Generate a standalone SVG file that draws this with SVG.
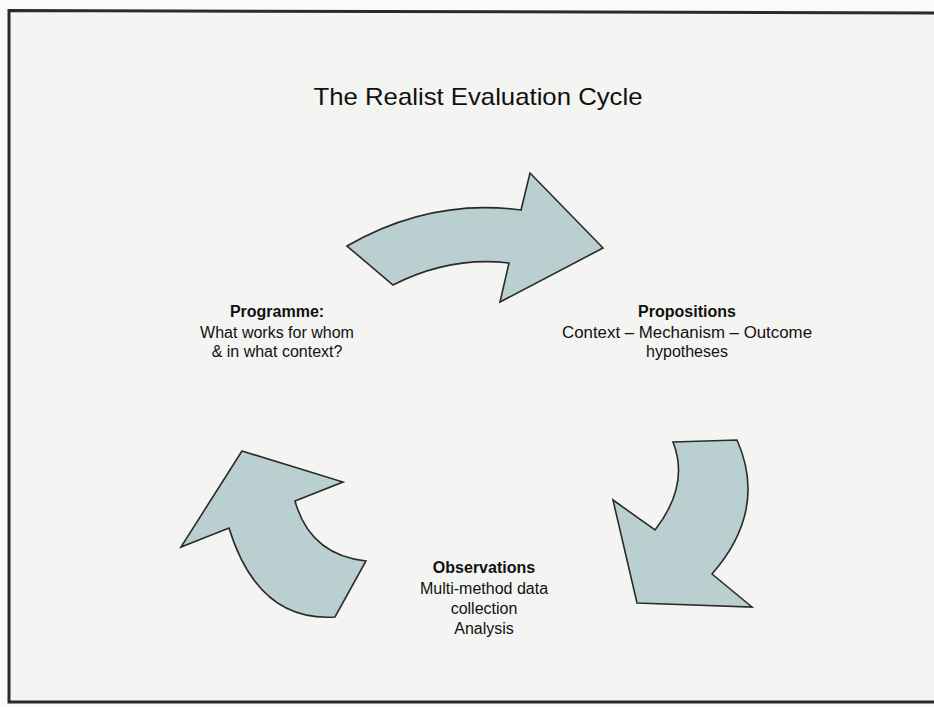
<svg xmlns="http://www.w3.org/2000/svg" width="934" height="707" viewBox="0 0 934 707">
<style>
.arrow{fill:#b9cfd0;stroke:#2a2a2a;stroke-width:1.6;stroke-linejoin:miter}
.t{font-family:"Liberation Sans",Arial,sans-serif;fill:#111;text-anchor:middle;font-size:16px}
.b{font-weight:bold}
.frame{stroke:#2b2b2b;stroke-width:3;fill:none}
</style>
<rect x="0" y="0" width="934" height="707" fill="#fafaf8"/>
<rect x="9" y="11" width="930" height="691" fill="#f4f4f2"/>
<g id="frame">
<path class="frame" d="M934,13 L9,10.5 L9,702 L934,702"/>
</g>
<text class="t" x="478" y="105" style="font-size:24px" textLength="329" lengthAdjust="spacingAndGlyphs">The Realist Evaluation Cycle</text>
<g id="connectors">
<path id="arrow-top" class="arrow" d="M347,246 Q430,198 521,210 L530,173 L603,248 L500,302 L509,263 Q450,256 393,285 Z"/>
<path id="arrow-right" class="arrow" d="M673,442 L737,440 Q768,510 712,574 L752,607 L637,603 L613,500 L655,530 Q690,485 673,442 Z"/>
<path id="arrow-left" class="arrow" d="M242,451 L343,482 L295,501 Q310,555 366,561 L335,617 Q258,622 229,528 L181,547 Z"/>
</g>
<g id="programme">
<text class="t b" x="277" y="317">Programme:</text>
<text class="t" x="277" y="338">What works for whom</text>
<text class="t" x="277" y="357">&amp; in what context?</text>
</g>
<g id="propositions">
<text class="t b" x="687" y="317">Propositions</text>
<text class="t" x="687" y="338" textLength="250" lengthAdjust="spacingAndGlyphs">Context – Mechanism – Outcome</text>
<text class="t" x="687" y="357">hypotheses</text>
</g>
<g id="observations">
<text class="t b" x="484" y="573">Observations</text>
<text class="t" x="484" y="594">Multi-method data</text>
<text class="t" x="484" y="614">collection</text>
<text class="t" x="484" y="634">Analysis</text>
</g>
</svg>
